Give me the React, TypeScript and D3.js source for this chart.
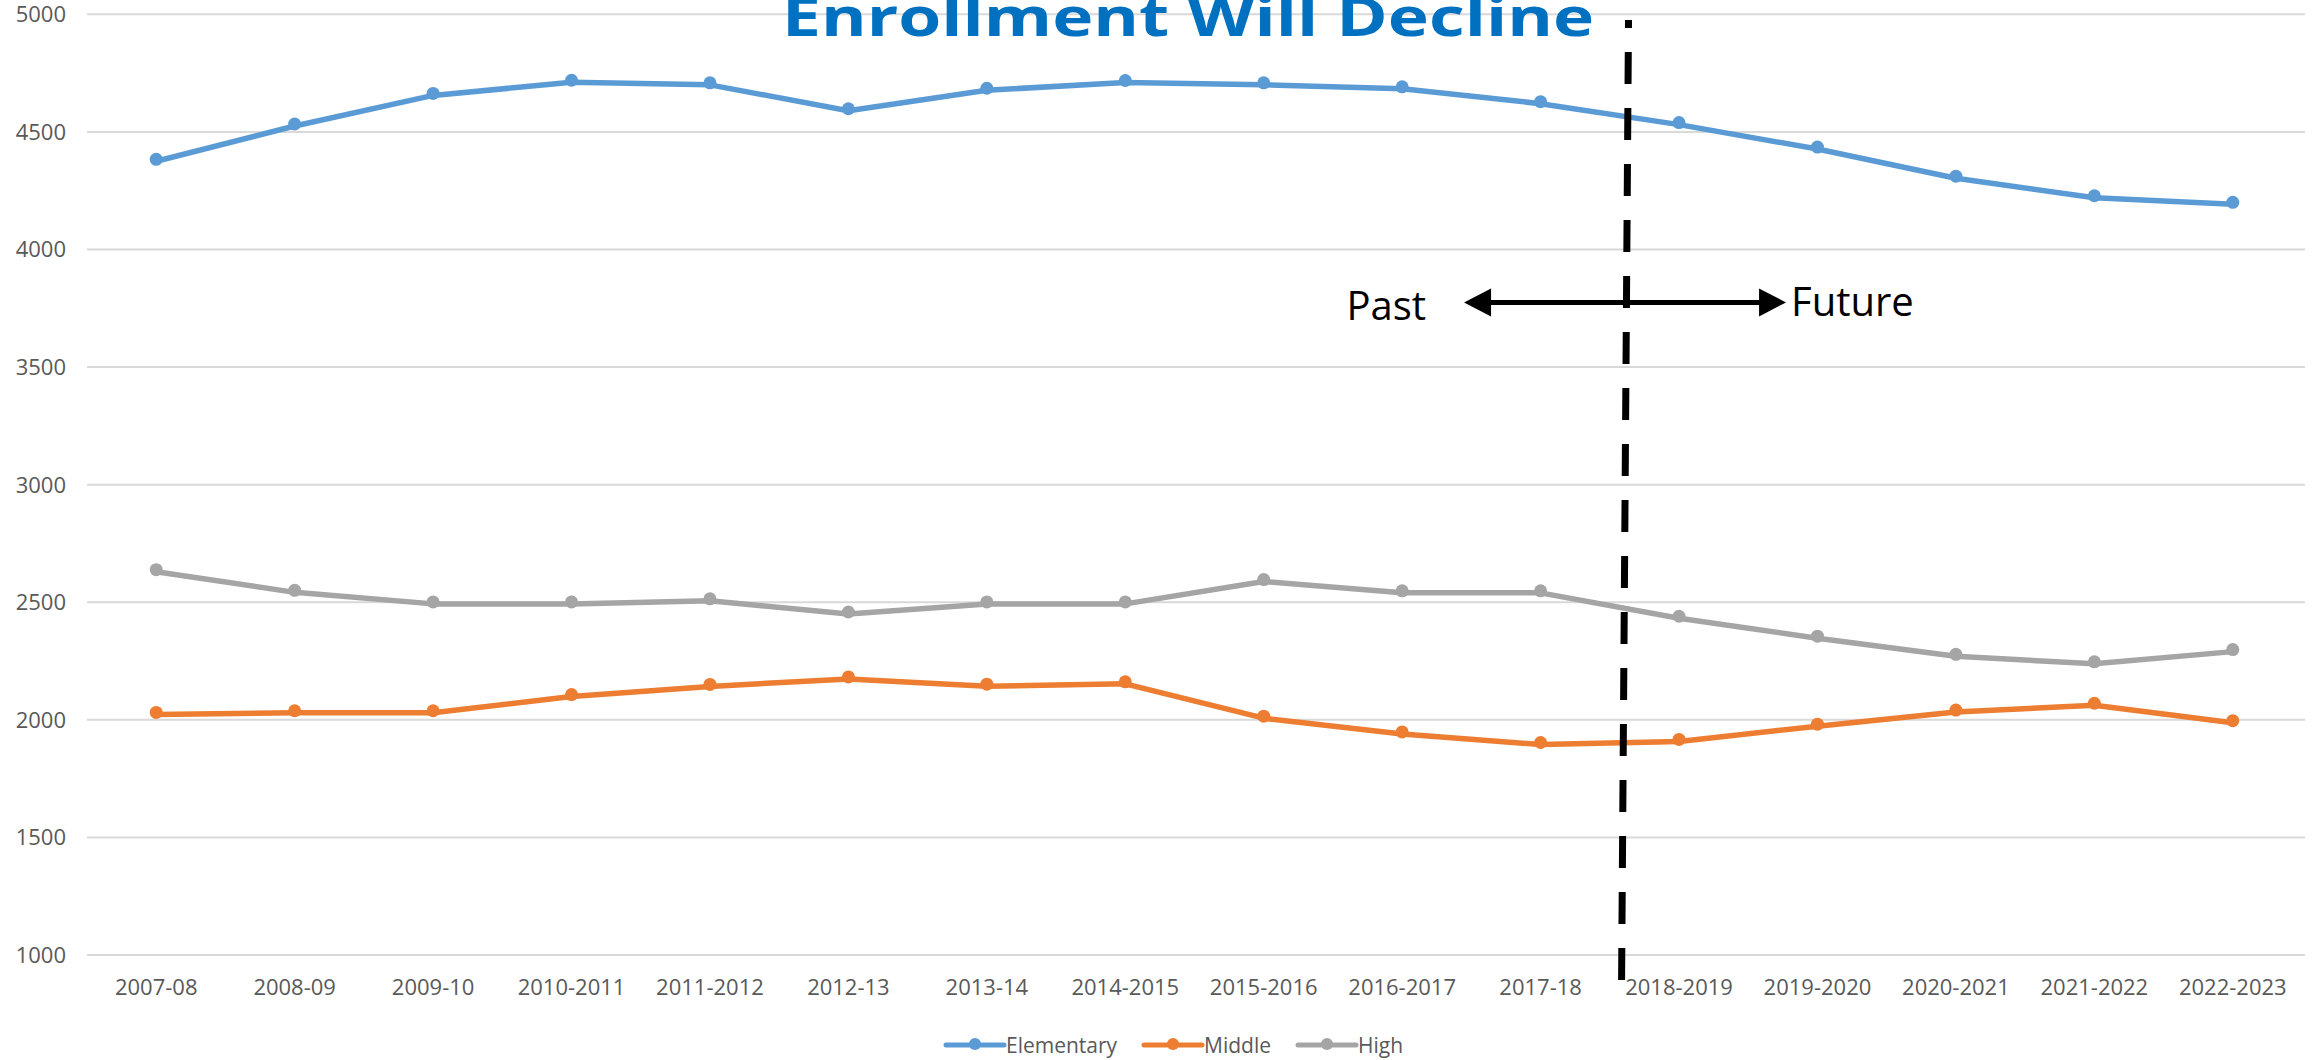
import * as d3 from "d3";

const categories: string[] = [
  "2007-08", "2008-09", "2009-10", "2010-2011", "2011-2012", "2012-13", "2013-14", "2014-2015",
  "2015-2016", "2016-2017", "2017-18", "2018-2019", "2019-2020", "2020-2021", "2021-2022", "2022-2023",
];
const elementary: number[] = [4375, 4525, 4655, 4711, 4700, 4590, 4677, 4710, 4700, 4683, 4620, 4531, 4427, 4303, 4220, 4192];
const middle: number[] = [2023, 2030, 2030, 2099, 2142, 2174, 2143, 2153, 2007, 1940, 1895, 1908, 1973, 2033, 2062, 1988];
const high: number[] = [2630, 2542, 2493, 2493, 2506, 2450, 2493, 2493, 2588, 2540, 2540, 2432, 2347, 2270, 2238, 2290];
const yTicks: number[] = [1000, 1500, 2000, 2500, 3000, 3500, 4000, 4500, 5000];
const seriesNames: string[] = ["Elementary", "Middle", "High"];
const seriesColors: string[] = ["#5B9BD5", "#ED7D31", "#A5A5A5"];
const title = "Enrollment Will Decline";

export default function App() {
  const w = 2320;
  const h = 1060;
  const font = "'Open Sans', sans-serif";

  // scales
  const x = d3.scaleBand().domain(categories).range([87, 2302]);
  const step = x.bandwidth();
  const cx = (c: string) => (x(c) as number) + step / 2;
  const y = d3.scaleLinear().domain([1000, 5000]).range([955, 14.3]);

  const line = d3
    .line<number>()
    .x((d, i) => cx(categories[i]))
    .y((d) => y(d));

  const series = [elementary, middle, high];

  // divider between past and projections
  const divX = cx("2017-18");
  const arrowY = y(3775);
  const arrowMid = divX + step * 0.61;

  // legend layout
  const legendX = [946, 1144, 1298];
  const legendY = 1045;

  return (
    <svg width={w} height={h} style={{ position: "absolute", left: 0, top: 0, background: "#fff" }}>
      {/* gridlines + y labels */}
      {yTicks.map((t) => (
        <g key={t}>
          <line x1={87} x2={2305} y1={y(t)} y2={y(t)} stroke="#D9D9D9" strokeWidth={2} />
          <text
            x={66}
            y={y(t)}
            dy="0.36em"
            textAnchor="end"
            fontFamily={font}
            fontSize={22}
            fill="#595959"
          >
            {t}
          </text>
        </g>
      ))}

      {/* x labels */}
      {categories.map((c) => (
        <text key={c} x={cx(c)} y={995} textAnchor="middle" fontFamily={font} fontSize={22} fill="#595959">
          {c}
        </text>
      ))}

      {/* series */}
      {series.map((s, si) => (
        <g key={seriesNames[si]}>
          <path d={line(s) as string} fill="none" stroke={seriesColors[si]} strokeWidth={5.5} strokeLinejoin="round" />
          {s.map((v, i) => (
            <circle key={i} cx={cx(categories[i])} cy={y(v) - 2} r={6.5} fill={seriesColors[si]} />
          ))}
        </g>
      ))}

      {/* title (cut by the top edge) */}
      <text
        x={1188}
        y={36}
        textAnchor="middle"
        fontFamily={font}
        fontWeight="bold"
        fontSize={54}
        fill="#0070C0"
        textLength={812}
        lengthAdjust="spacingAndGlyphs"
      >
        {title}
      </text>

      {/* dashed divider */}
      <line
        x1={divX + step * 0.635}
        y1={20}
        x2={divX + step * 0.585}
        y2={980}
        stroke="#000"
        strokeWidth={7}
        strokeDasharray="32 24"
        strokeDashoffset={24}
      />

      {/* past / future arrow */}
      <line x1={arrowMid - 135} x2={arrowMid + 135} y1={arrowY} y2={arrowY} stroke="#000" strokeWidth={5} />
      <path
        d={`M${arrowMid - 161},${arrowY} L${arrowMid - 134},${arrowY - 14} L${arrowMid - 134},${arrowY + 14} Z`}
        fill="#000"
      />
      <path
        d={`M${arrowMid + 161},${arrowY} L${arrowMid + 134},${arrowY - 14} L${arrowMid + 134},${arrowY + 14} Z`}
        fill="#000"
      />
      <text x={arrowMid - 199} y={arrowY + 18} textAnchor="end" fontFamily={font} fontSize={40} fill="#000">
        Past
      </text>
      <text x={arrowMid + 166} y={arrowY + 14} fontFamily={font} fontSize={40} fill="#000">
        Future
      </text>

      {/* legend */}
      {seriesNames.map((n, i) => (
        <g key={n} transform={`translate(${legendX[i]}, ${legendY})`}>
          <line x1={0} x2={58} y1={0} y2={0} stroke={seriesColors[i]} strokeWidth={5} strokeLinecap="round" />
          <circle cx={29} cy={-1} r={6} fill={seriesColors[i]} />
          <text x={60} y={0} dy="0.36em" fontFamily={font} fontSize={21} fill="#595959">
            {n}
          </text>
        </g>
      ))}
    </svg>
  );
}
